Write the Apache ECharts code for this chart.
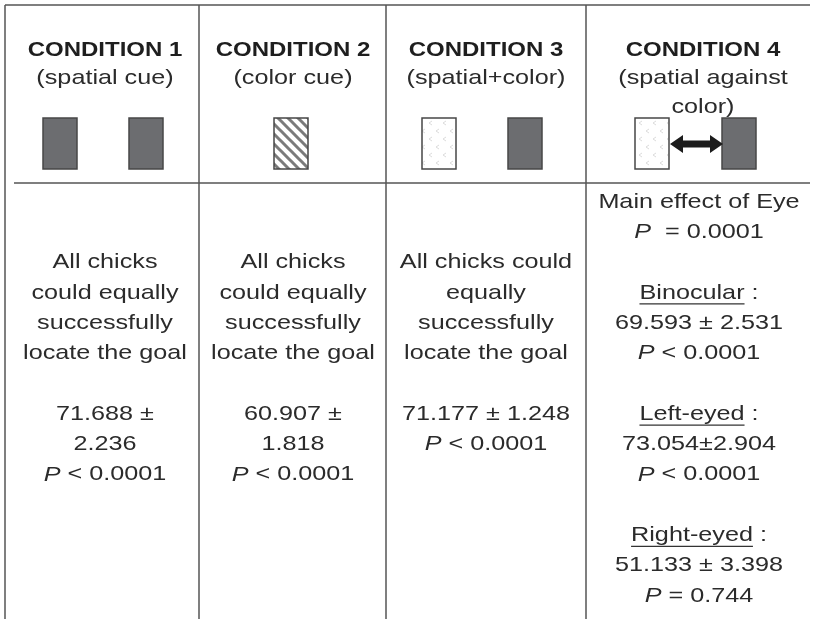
<!DOCTYPE html>
<html>
<head>
<meta charset="utf-8">
<script src="https://cdn.jsdelivr.net/npm/echarts@6/dist/echarts.min.js"></script>
<style>
  html, body { margin: 0; padding: 0; background: #fff; }
  #main { width: 819px; height: 619px; }
</style>
</head>
<body>
<div id="main"></div>
<script>
// table content
var conditions = ['CONDITION 1', 'CONDITION 2', 'CONDITION 3', 'CONDITION 4'];
var cues = [['(spatial cue)'], ['(color cue)'], ['(spatial+color)'], ['(spatial against', 'color)']];
var descriptions = [
  ['All chicks', 'could equally', 'successfully', 'locate the goal'],
  ['All chicks', 'could equally', 'successfully', 'locate the goal'],
  ['All chicks could', 'equally', 'successfully', 'locate the goal']
];
var means = ['71.688', '60.907', '71.177'];
var sems = ['2.236', '1.818', '1.248'];
var pValues = ['< 0.0001', '< 0.0001', '< 0.0001'];
var mainEffect = 'Main effect of Eye';
var mainEffectP = '= 0.0001';
var eyeGroups = ['Binocular', 'Left-eyed', 'Right-eyed'];
var eyeMeans = ['69.593', '73.054', '51.133'];
var eyeSems = ['2.531', '2.904', '3.398'];
var eyeP = ['< 0.0001', '< 0.0001', '= 0.744'];

// layout
var FONT = '"Liberation Sans", Arial, sans-serif';
var SX = 1.2;                       // figure text is stretched horizontally
var colEdges = [5, 199, 386, 586];
var colCenters = [105, 293, 486, 701];
var frameRight = 810, headLineY = 183;
var lineY0 = 202, pitch = 30.3;

var els = [];
var mctx = document.createElement('canvas').getContext('2d');
function textW(s, font) { mctx.font = font; return mctx.measureText(s).width * SX; }

function bodyFont(style) { return (style || '') + ' 21px ' + FONT; }

function addText(x, y, s, font, color) {
  els.push({
    type: 'text', x: x, y: y, scaleX: SX, z: 10,
    style: {
      text: s, x: 0, y: 0, align: 'center', verticalAlign: 'middle',
      font: font, fill: color || '#2b2b2b',
      rich: { i: { font: bodyFont('italic'), fill: color || '#2b2b2b' } }
    }
  });
}
function addLine(x1, y1, x2, y2, w, c) {
  els.push({ type: 'line', shape: { x1: x1, y1: y1, x2: x2, y2: y2 },
    style: { stroke: c || '#555', lineWidth: w || 1.5 } });
}

// patterns
function hatchPattern() {
  var c = document.createElement('canvas'); c.width = 10; c.height = 10;
  var g = c.getContext('2d');
  g.fillStyle = '#fff'; g.fillRect(0, 0, 10, 10);
  g.strokeStyle = '#7b7b7b'; g.lineWidth = 3;
  g.beginPath();
  g.moveTo(-2, -2); g.lineTo(12, 12);
  g.moveTo(-2, 8); g.lineTo(2, 12);
  g.moveTo(8, -2); g.lineTo(12, 2);
  g.stroke();
  return { image: c, repeat: 'repeat' };
}
function speckPattern() {
  var c = document.createElement('canvas'); c.width = 14; c.height = 16;
  var g = c.getContext('2d');
  g.fillStyle = '#fff'; g.fillRect(0, 0, 14, 16);
  g.strokeStyle = '#dcdcdc'; g.lineWidth = 1;
  g.beginPath();
  g.moveTo(5, 1); g.lineTo(2, 3); g.lineTo(5, 5);
  g.moveTo(12, 9); g.lineTo(9, 11); g.lineTo(12, 13);
  g.stroke();
  return { image: c, repeat: 'repeat' };
}
var DARK = '#6c6d70';
function addCard(x, fill) {
  els.push({ type: 'rect', shape: { x: x, y: 118, width: 34, height: 51 },
    style: { fill: fill, stroke: '#474747', lineWidth: 1.5 }, z: 5 });
}

// frame
addLine(5, 5, 5, 619);
addLine(5, 5, frameRight, 5);
addLine(14, headLineY, frameRight, headLineY);
for (var k = 1; k < colEdges.length; k++) addLine(colEdges[k], 5, colEdges[k], 619);

// header
conditions.forEach(function (c, i) {
  addText(colCenters[i] + (i === 3 ? 2 : 0), 50, c, 'bold 20px ' + FONT, '#1e1e1e');
  cues[i].forEach(function (s, j) {
    addText(colCenters[i] + (i === 3 ? 2 : 0), 78 + j * 29, s, bodyFont(), '#2b2b2b');
  });
});

// cue cards
addCard(43, DARK); addCard(129, DARK);
addCard(274, hatchPattern());
addCard(422, speckPattern()); addCard(508, DARK);
addCard(635, speckPattern()); addCard(722, DARK);
els.push({ type: 'polygon', z: 6, shape: { points: [
  [670, 144], [683, 135], [683, 140.5], [710, 140.5], [710, 135], [723, 144],
  [710, 153], [710, 147.5], [683, 147.5], [683, 153]] },
  style: { fill: '#1c1c1c' } });

// body, columns 1-3
function row(n) { return lineY0 + n * pitch; }
descriptions.forEach(function (lines, i) {
  lines.forEach(function (s, j) { addText(colCenters[i], row(2 + j), s, bodyFont()); });
  var stats = i < 2 ? [means[i] + ' \u00b1', sems[i]] : [means[i] + ' \u00b1 ' + sems[i]];
  stats.push('{i|P} ' + pValues[i]);
  stats.forEach(function (s, j) { addText(colCenters[i], row(7 + j), s, bodyFont()); });
});

// body, column 4
var cx = 699;
addText(cx, row(0), mainEffect, bodyFont());
addText(cx, row(1), '{i|P}  ' + mainEffectP, bodyFont());
eyeGroups.forEach(function (g, i) {
  var r = 3 + i * 4;
  var full = g + ' :';
  var wFull = textW(full, bodyFont()), wWord = textW(g, bodyFont());
  addText(cx, row(r), full, bodyFont());
  var x0 = cx - wFull / 2;
  addLine(x0, row(r) + 11, x0 + wWord, row(r) + 11, 1.3, '#333');
  var sep = i === 1 ? '\u00b1' : ' \u00b1 ';
  addText(cx, row(r + 1), eyeMeans[i] + sep + eyeSems[i], bodyFont());
  addText(cx, row(r + 2), '{i|P} ' + eyeP[i], bodyFont());
});

var chart = echarts.init(document.getElementById('main'), null, { renderer: 'canvas' });
chart.setOption({
  backgroundColor: '#fff',
  animation: false,
  graphic: { elements: els }
});
</script>
</body>
</html>
